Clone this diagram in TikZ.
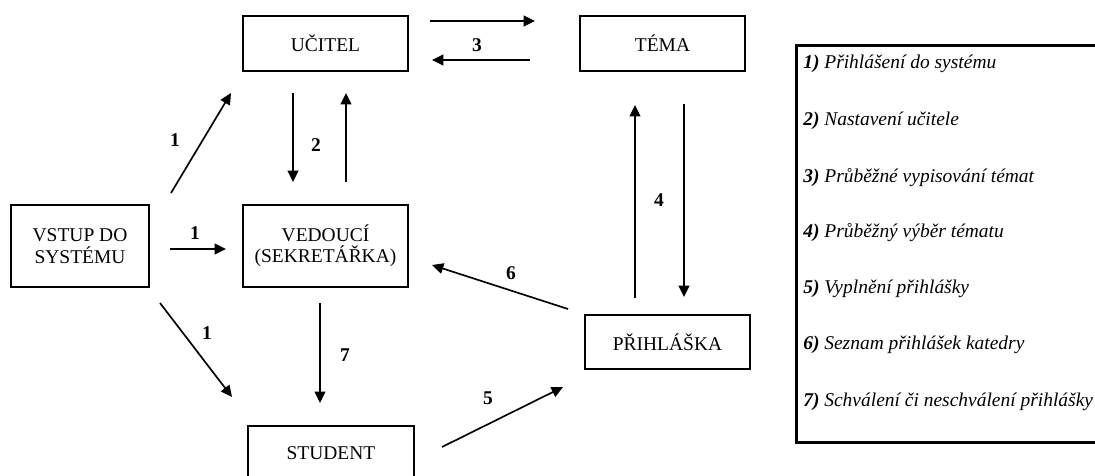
\documentclass[tikz,border=0pt]{standalone}
\usepackage{fontspec}
\setmainfont{Liberation Serif}
\usetikzlibrary{arrows.meta}
\begin{document}
\begin{tikzpicture}[x=0.75pt,y=-0.75pt,
  box/.style={draw,line width=2pt,inner sep=0pt,align=center,
              minimum width=123.75pt,minimum height=41.25pt},
  tallbox/.style={box,minimum height=61.5pt},
  conn/.style={line width=1.25pt,-{Triangle[length=8.5pt,width=8pt]}},
  num/.style={inner sep=0pt,font=\bfseries},
  legitem/.style={anchor=base west,inner sep=0pt,font=\itshape}]
\fontsize{14.6}{16}\selectfont
\clip (0,0) rectangle (1095,475);
\fill[white] (0,0) rectangle (1095,475);

% entities
\node[tallbox,minimum width=103.5pt] (vstup) at (80,246) {VSTUP DO\\SYSTÉMU};
\node[box] (ucitel) at (325.5,43.5) {UČITEL};
\node[box] (tema) at (662.5,43.5) {TÉMA};
\node[tallbox] (vedouci) at (325.5,246) {VEDOUCÍ\\(SEKRETÁŘKA)};
\node[box,minimum height=40.5pt] (prihlaska) at (667.5,342) {PŘIHLÁŠKA};
\node[box,minimum width=124.5pt,minimum height=40.5pt] (student) at (331,453) {STUDENT};

% arrow end points
\coordinate (a1us) at (171,193);  \coordinate (a1ue) at (231,93);
\coordinate (a1hs) at (170,249);  \coordinate (a1he) at (226,249);
\coordinate (a1ds) at (160,303);  \coordinate (a1de) at (232,397);
\coordinate (a2ds) at (293,93);   \coordinate (a2de) at (293,182);
\coordinate (a2us) at (346,182);  \coordinate (a2ue) at (346,93);
\coordinate (a3rs) at (430,21);   \coordinate (a3re) at (535,21);
\coordinate (a3ls) at (530,60);   \coordinate (a3le) at (432,60);
\coordinate (a4us) at (635,298);  \coordinate (a4ue) at (635,105);
\coordinate (a4ds) at (684,104);  \coordinate (a4de) at (684,297);
\coordinate (a5s) at (442,447);   \coordinate (a5e) at (563,387);
\coordinate (a6s) at (568,309);   \coordinate (a6e) at (432,265);
\coordinate (a7s) at (320,303);   \coordinate (a7e) at (320,403);

% flows
\draw[conn] (a1us) -- (a1ue);
\draw[conn] (a1hs) -- (a1he);
\draw[conn] (a1ds) -- (a1de);
\draw[conn] (a2ds) -- (a2de);
\draw[conn] (a2us) -- (a2ue);
\draw[conn] (a3rs) -- (a3re);
\draw[conn] (a3ls) -- (a3le);
\draw[conn] (a4us) -- (a4ue);
\draw[conn] (a4ds) -- (a4de);
\draw[conn] (a5s) -- (a5e);
\draw[conn] (a6s) -- (a6e);
\draw[conn] (a7s) -- (a7e);

% flow numbers
\node[num] (n1u) at (175,140) {1};
\node[num] (n1h) at (195,233) {1};
\node[num] (n1d) at (207,333) {1};
\node[num] (n2) at (316,145) {2};
\node[num] (n3) at (477,45) {3};
\node[num] (n4) at (659,200) {4};
\node[num] (n5) at (488,398) {5};
\node[num] (n6) at (511,273) {6};
\node[num] (n7) at (345,355) {7};

% legend
\node[draw,line width=2pt,inner sep=0pt,anchor=north west,
      minimum width=228.75pt,minimum height=297.75pt] (legend) at (795,44) {};
\node[legitem] (l1) at (803,68)  {\textbf{1)} Přihlášení do systému};
\node[legitem] (l2) at (803,125) {\textbf{2)} Nastavení učitele};
\node[legitem] (l3) at (803,182) {\textbf{3)} Průběžné vypisování témat};
\node[legitem] (l4) at (803,237) {\textbf{4)} Průběžný výběr tématu};
\node[legitem] (l5) at (803,293) {\textbf{5)} Vyplnění přihlášky};
\node[legitem] (l6) at (803,349) {\textbf{6)} Seznam přihlášek katedry};
\node[legitem] (l7) at (803,406) {\textbf{7)} Schválení či neschválení přihlášky};
\end{tikzpicture}
\end{document}
